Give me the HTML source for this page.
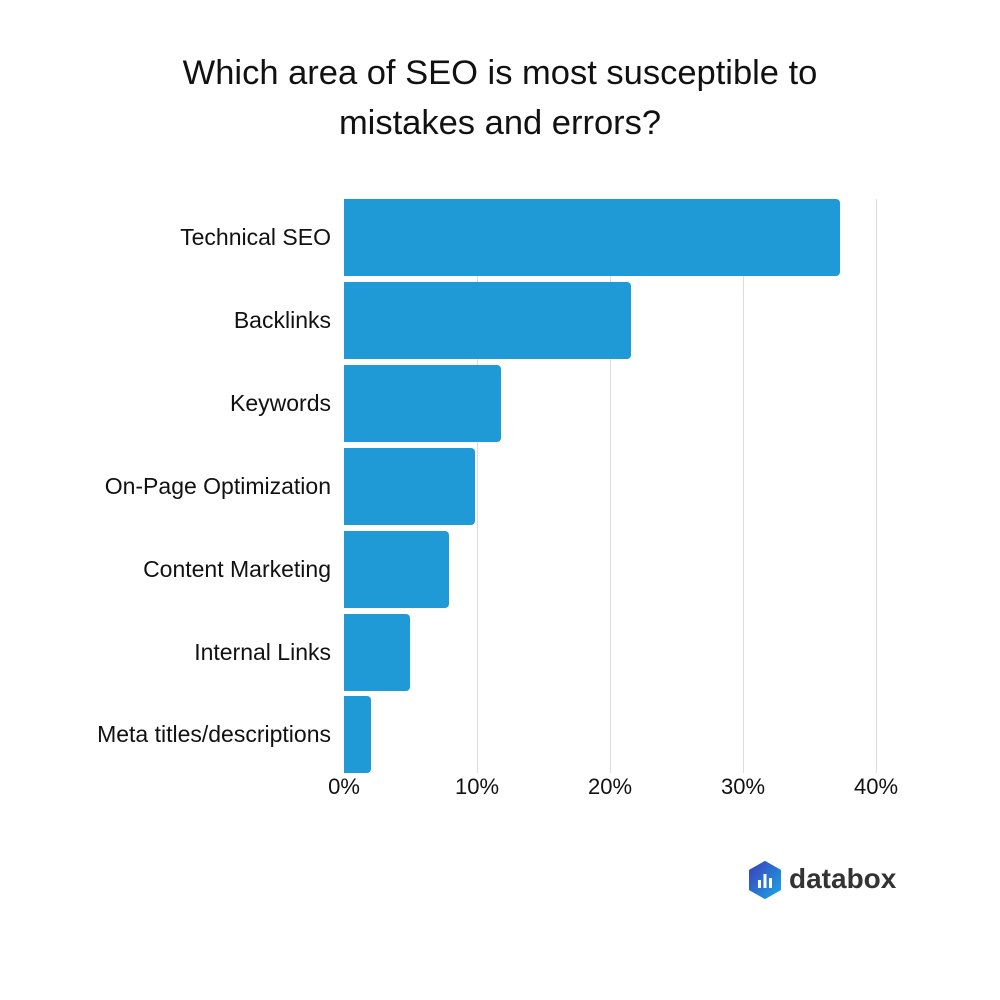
<!DOCTYPE html>
<html><head><style>
body{margin:0;width:1000px;height:1000px;background:#fff;font-family:"Liberation Sans",sans-serif;position:relative;overflow:hidden}
.t{position:absolute;left:0;width:1000px;text-align:center;font-size:34.5px;color:#111}
.g{position:absolute;top:199px;height:574px;width:1px;background:#ddd}
.b{position:absolute;left:344px;height:77px;background:#1f9ad6;border-radius:0 4px 4px 0}
.l{position:absolute;right:669px;font-size:23px;color:#111;text-align:right;white-space:nowrap}
.x{position:absolute;top:774px;font-size:22px;color:#111;width:80px;text-align:center}
</style></head><body>
<div class="t" style="top:54px">Which area of SEO is most susceptible to</div>
<div class="t" style="top:104px">mistakes and errors?</div>
<div class="g" style="left:477px"></div><div class="g" style="left:610px"></div><div class="g" style="left:743px"></div><div class="g" style="left:876px"></div>
<div class="b" style="top:199px;width:496px"></div>
<div class="b" style="top:282px;width:287px"></div>
<div class="b" style="top:365px;width:157px"></div>
<div class="b" style="top:448px;width:131px"></div>
<div class="b" style="top:531px;width:105px"></div>
<div class="b" style="top:614px;width:66px"></div>
<div class="b" style="top:696px;width:27px"></div>
<div class="l" style="top:224px">Technical SEO</div>
<div class="l" style="top:307px">Backlinks</div>
<div class="l" style="top:390px">Keywords</div>
<div class="l" style="top:473px">On-Page Optimization</div>
<div class="l" style="top:556px">Content Marketing</div>
<div class="l" style="top:639px">Internal Links</div>
<div class="l" style="top:721px">Meta titles/descriptions</div>
<div class="x" style="left:304px">0%</div>
<div class="x" style="left:437px">10%</div>
<div class="x" style="left:570px">20%</div>
<div class="x" style="left:703px">30%</div>
<div class="x" style="left:836px">40%</div>
<svg style="position:absolute;left:748px;top:861px" width="34" height="38" viewBox="0 0 34 38">
<defs><linearGradient id="lg" x1="0" y1="0" x2="1" y2="1"><stop offset="0" stop-color="#3b3fb8"/><stop offset="1" stop-color="#1aa6e6"/></linearGradient></defs>
<polygon points="17,1 32,9.5 32,28.5 17,37 2,28.5 2,9.5" fill="url(#lg)" stroke="url(#lg)" stroke-width="2" stroke-linejoin="round"/>
<rect x="10" y="19" width="3" height="8" fill="#fff"/><rect x="15.5" y="13" width="3" height="14" fill="#fff"/><rect x="21" y="17" width="3" height="10" fill="#fff"/>
</svg>
<div style="position:absolute;left:789px;top:863px;font-size:28px;font-weight:bold;color:#333">databox</div>
</body></html>
